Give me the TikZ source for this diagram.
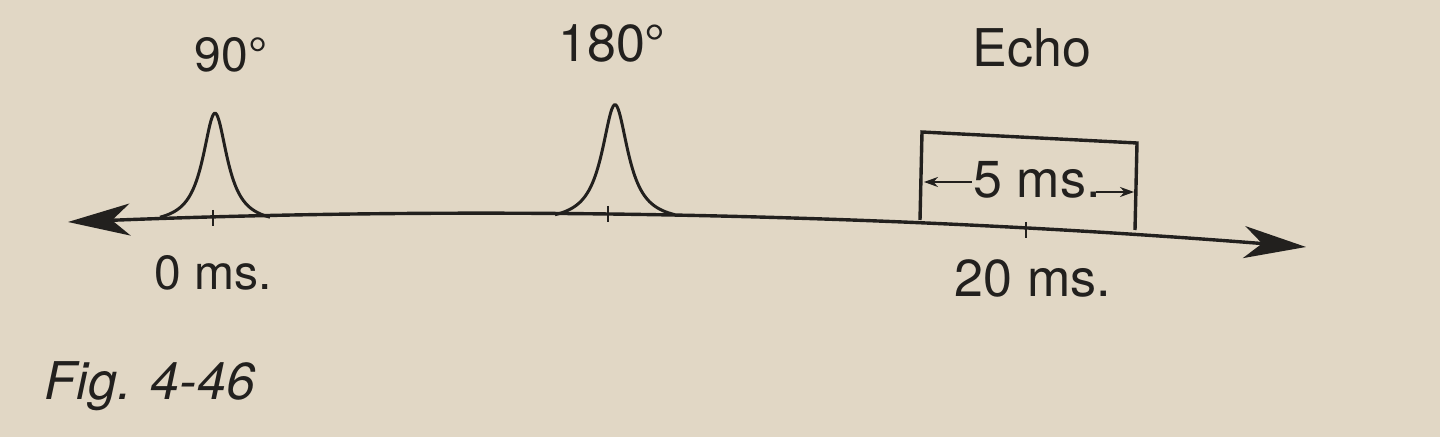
\documentclass[tikz,border=0pt]{standalone}
\usepackage{fontspec}
\setmainfont{TeX Gyre Heros}
\usetikzlibrary{arrows.meta}
\definecolor{paper}{RGB}{225,215,197}
\definecolor{ink}{RGB}{34,32,30}
\tikzset{>={Stealth[length=31pt,width=16pt,inset=9pt]},
  every node/.style={font=\fontsize{26}{30}\selectfont,inner sep=0pt,anchor=base},
  small/.style={font=\fontsize{24}{28}\selectfont},
  caption/.style={font=\itshape\fontsize{26}{30}\selectfont},
  tip/.style={-{Stealth[length=7pt,width=5pt]},line width=1pt}}
\begin{document}
\begin{tikzpicture}[x=0.5pt,y=-0.5pt,line width=1.7pt,color=ink]
    \fill[paper] (0,0) rectangle (1440,437);
    % time axis
    \coordinate (left) at (68,222);
    \coordinate (right) at (1306,247);
    \draw[<->] (left) .. controls (500,205) and (900,215) .. (right);
    % rf pulses, tails brought down onto the axis
    \foreach \c/\b/\h/\w/\d in {215/217.2/104/15/55,615/214.7/110/16/60}{
        \draw[line width=1.5pt] plot[domain=-\d:\d,samples=100,smooth]
            ({\c+\x},{\b-\h*(1/(1+(\x/\w)^2)-1/(1+(\d/\w)^2))/(1-1/(1+(\d/\w)^2))});
    }
    % ticks
    \foreach \n/\x/\y in {t0/213/218,t1/608/214,t2/1026/230}{
        \coordinate (\n) at (\x,\y);
        \draw[line width=1.2pt] (\n) +(0,-8) -- +(0,8);
    }
    \node[small] (p90) at (231,72) {90°};
    \node (p180) at (612,62) {180°};
    \node (echo) at (1032,67) {Echo};
    \node[small] (zero) at (213,290) {0 ms.};
    \node (twenty) at (1033,297) {20 ms.};
    \node[caption] (fig) at (150,400) {Fig. 4-46};
    % echo window
    \coordinate (bl) at (920,220);
    \coordinate (tl) at (922,132);
    \coordinate (tr) at (1137,143);
    \coordinate (br) at (1135,230);
    \draw (bl) -- (tl) -- (tr) -- (br);
    \node (width) at (1037,198) {5 ms.};
    \coordinate (wl) at (924,182);
    \coordinate (wr) at (1134,192);
    \draw[tip] (width.west |- wl) -- (wl);
    \draw[tip] ([xshift=-3pt]width.east |- wr) -- (wr);
\end{tikzpicture}
\end{document}
